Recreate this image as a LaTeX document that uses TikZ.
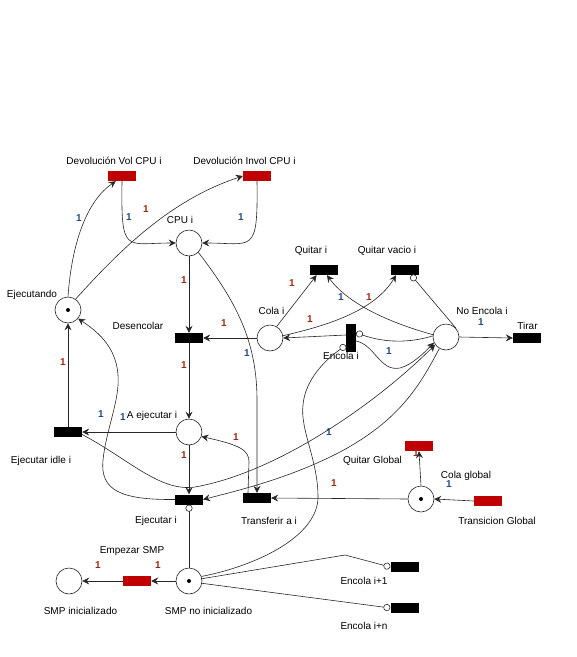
\documentclass[tikz,border=0pt]{standalone}
\usepackage{fontspec}
\setmainfont{Liberation Sans}
\usetikzlibrary{arrows.meta}
\definecolor{trred}{RGB}{192,0,0}
\definecolor{wred}{RGB}{160,40,10}
\definecolor{wblue}{RGB}{30,75,140}
\begin{document}
\begin{tikzpicture}
      [x=1pt,y=-1pt
      ,font=\fontsize{10}{12}\selectfont
      ,place/.style={circle,draw=black!85,line width=.6pt,fill=white,minimum size=26pt,inner sep=0pt}
      ,trans/.style={rectangle,fill=black,minimum width=28pt,minimum height=10pt,inner sep=0pt}
      ,vtrans/.style={trans,minimum width=10pt,minimum height=28pt}
      ,rtrans/.style={trans,fill=trred}
      ,arc/.style={draw=black!85,line width=.6pt,-{Stealth[length=7pt,width=7pt,inset=2.5pt]}}
      ,inh/.style={draw=black!85,line width=.6pt,-{Circle[length=7pt,fill=white]}}
      ,wr/.style={text=wred,font=\fontsize{10}{12}\selectfont\bfseries}
      ,wb/.style={text=wblue,font=\fontsize{10}{12}\selectfont\bfseries}
      ]
        \useasboundingbox (0,0) rectangle (577,657);
        % places
        \node[place] (cpu) at (189,243) {};
        \node[place] (ejec) at (68,310) {};
        \node[place] (cola) at (270,338) {};
        \node[place] (noenc) at (446,337) {};
        \node[place] (aejec) at (189,432) {};
        \node[place] (colag) at (421,499) {};
        \node[place] (smpno) at (189,581) {};
        \node[place] (smpsi) at (69,581) {};
        \foreach \p in {ejec,colag,smpno}{
          \fill (\p.center) circle (2pt);
        }
        % transitions
        \node[rtrans] (dvol) at (122,176) {};
        \node[rtrans] (dinv) at (257,176) {};
        \node[trans] (quit) at (324,270) {};
        \node[trans] (quitv) at (405,270) {};
        \node[trans] (desen) at (189,338) {};
        \node[vtrans] (enc) at (351,338) {};
        \node[trans] (tirar) at (527,338) {};
        \node[trans] (idle) at (68,432) {};
        \node[trans] (ejecut) at (189,499.5) {};
        \node[trans] (transf) at (257,498) {};
        \node[rtrans] (quitg) at (419,446) {};
        \node[rtrans] (transg) at (488,501) {};
        \node[rtrans] (empez) at (137,581) {};
        \node[trans] (enc1) at (404.5,567) {};
        \node[trans] (encn) at (404.5,608) {};
        % labels
        \node (ldvol) at (114,161) {Devolución Vol CPU i};
        \node (ldinv) at (244.5,161) {Devolución Invol CPU i};
        \node (lcpu) at (180,220) {CPU i};
        \node (lejec) at (32,295) {Ejecutando};
        \node (ldesen) at (138,326) {Desencolar};
        \node (lquit) at (311,251) {Quitar i};
        \node (lquitv) at (387,251) {Quitar vacio i};
        \node (lcola) at (271.5,311) {Cola i};
        \node (lnoenc) at (482,311) {No Encola i};
        \node (ltirar) at (527.5,326) {Tirar};
        \node (lenc) at (341,356) {Encola i};
        \node (laejec) at (152,416) {A ejecutar i};
        \node (lidle) at (41,461) {Ejecutar idle i};
        \node (lejecut) at (156,521) {Ejecutar i};
        \node (ltransf) at (269,521) {Transferir a i};
        \node (lquitg) at (372.5,461) {Quitar Global};
        \node (lcolag) at (466,476) {Cola global};
        \node (ltransg) at (497,521) {Transicion Global};
        \node (lempez) at (132,551) {Empezar SMP};
        \node (lsmpsi) at (80.5,611) {SMP inicializado};
        \node (lsmpno) at (208.5,611) {SMP no inicializado};
        \node (lenc1) at (364,581) {Encola i+1};
        \node (lencn) at (364,626) {Encola i+n};
        % weights
        \foreach \x/\y/\c [count=\k] in {79/218/wb,146/209/wr,129/217/wb,241/217/wb,
            184/280/wr,247/353/wb,224/323/wr,184/365/wr,292/283/wr,341/297/wb,
            369/297/wr,310/319/wr,481/322/wb,389/351/wb,63/362/wr,101/414/wb,
            123/417/wb,184/455/wr,236/437/wr,329/432/wb,334/483/wr,416/453/wr,
            449/484/wb,98/565/wr,158/565/wr}{
          \node[\c] (w\k) at (\x,\y) {1};
        }
        % arcs
        \draw[arc] (ejec.north) .. controls (72,240) and (88,200) .. (dvol.-140);
        \draw[arc] (ejec.55) .. controls (120,250) and (170,200) .. (dinv.west);
        \draw[arc] (dvol.south) .. controls (121,255) and (125,243) .. (cpu.west);
        \draw[arc] (dinv.south) .. controls (258,255) and (253,243) .. (cpu.east);
        \draw[arc] (cpu.south) -- (desen.north);
        \draw[arc] (cpu.-45) .. controls (235,300) and (257,340) .. (257,400) -- (transf.north);
        \draw[arc] (cola.west) -- (desen.east);
        \draw[arc] (desen.south) -- (aejec.north);
        \draw[arc] (cola.60) -- (quit.-145);
        \draw[arc] (noenc.170) .. controls (380,320) and (345,300) .. (quit.-60);
        \draw[arc] (cola.10) .. controls (330,325) and (375,310) .. (quitv.-150);
        \draw[inh] (noenc.40) -- (quitv.-40);
        \draw[arc] (enc.150) -- (cola.east);
        \draw[inh] (noenc.175) .. controls (410,343) and (385,343) .. (enc.45);
        \draw[arc] (enc.-30) .. controls (375,345) and (380,372) .. (400,368)
                   .. controls (412,365) and (425,352) .. (noenc.-155);
        \draw[inh] (smpno.20) .. controls (260,565) and (318,535) .. (318,497)
                   .. controls (318,460) and (300,430) .. (303,405)
                   .. controls (305,380) and (325,360) .. (enc.-125);
        \draw[inh] (smpno.10) -- (345,555) -- (enc1.west);
        \draw[inh] (smpno.-10) -- (encn.west);
        \draw[arc] (noenc.east) -- (tirar.west);
        \draw[arc] (aejec.west) -- (idle.east);
        \draw[arc] (idle.north) -- (ejec.south);
        \draw[arc] (ejecut.west) .. controls (120,500) and (100,490) .. (103,460)
                   .. controls (106,430) and (120,400) .. (118,375)
                   .. controls (116,345) and (95,330) .. (ejec.-40);
        \draw[arc] (aejec.south) -- (ejecut.north);
        \draw[arc] (idle.-10) .. controls (130,460) and (160,492) .. (195,487)
                   .. controls (280,472) and (380,400) .. (noenc.-145);
        \draw[arc] (noenc.-120) .. controls (420,385) and (400,420) .. (340,452)
                   .. controls (290,478) and (240,490) .. (ejecut.east);
        \draw[arc] (colag.west) -- (transf.east);
        \draw[arc] (transf.150) -- (249,462) .. controls (249,450) and (240,445) .. (aejec.-20);
        \draw[arc] (colag.north) -- (quitg.south);
        \draw[arc] (transg.west) -- (colag.east);
        \draw[arc] (smpno.west) -- (empez.east);
        \draw[arc] (empez.west) -- (smpsi.east);
        \draw[inh] (smpno.north) -- (ejecut.south);
      \end{tikzpicture}
\end{document}
